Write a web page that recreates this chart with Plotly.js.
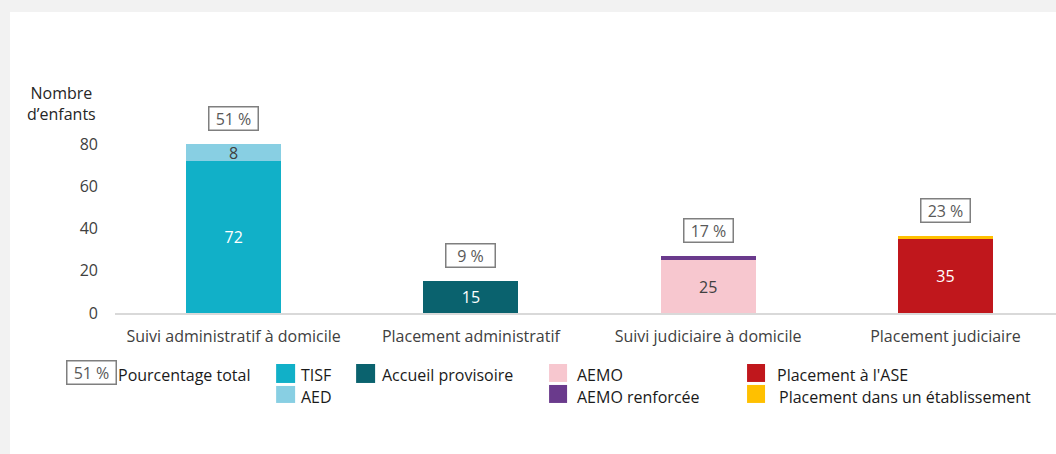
<!DOCTYPE html>
<html>
<head>
<meta charset="utf-8">
<script src="https://cdn.plot.ly/plotly-3.0.1.min.js"></script>
<style>
  html, body { margin:0; padding:0; background:#f2f2f2; }
  #card { position:absolute; left:10px; top:12px; width:1046px; height:442px; background:#fff; }
  #chart { position:absolute; left:0; top:0; width:1056px; height:454px; }
</style>
</head>
<body>
<div id="card"></div>
<div id="chart"></div>
<script>
// ---- data ----
const categories = ["Suivi administratif à domicile", "Placement administratif", "Suivi judiciaire à domicile", "Placement judiciaire"];
const tisf        = [72, null, null, null];
const aed         = [8, null, null, null];
const accueil     = [null, 15, null, null];
const aemo        = [null, null, 25, null];
const aemoRenf    = [null, null, 2, null];
const placeASE    = [null, null, null, 35];
const placeEtab   = [null, null, null, 1.5];
const totals      = [80, 15, 27, 36.5];
const pctLabels   = ["51 %", "9 %", "17 %", "23 %"];
const yTicks      = [0, 20, 40, 60, 80];

const FONT = "'Open Sans', Lato, sans-serif";
const FS = 16;
const W = 1056, H = 454;
const L = 114.85, R = 0, T = 122.9, B = 141;
const pw = W - L - R, ph = H - T - B;
const px = x => (x - L) / pw;
const py = y => (H - B - y) / ph;

function barTrace(name, y, color, textColor, showText) {
  return {
    type: "bar", name: name, x: categories, y: y,
    marker: { color: color, line: { width: 0 } },
    width: 0.4,
    text: showText ? y.map(v => v == null ? "" : String(v)) : undefined,
    textposition: showText ? "inside" : "none",
    insidetextanchor: "middle",
    textangle: 0,
    constraintext: "none",
    textfont: { family: FONT, size: FS, color: textColor },
    hoverinfo: "skip", showlegend: false
  };
}

const data = [
  barTrace("TISF", tisf, "#11b0c8", "#ffffff", true),
  barTrace("AED", aed, "#88cfe3", "#404040", true),
  barTrace("Accueil provisoire", accueil, "#0a626e", "#ffffff", true),
  barTrace("AEMO", aemo, "#f7c7cf", "#404040", true),
  barTrace("AEMO renforcée", aemoRenf, "#6a3a8c", "#ffffff", false),
  barTrace("Placement à l'ASE", placeASE, "#c0171c", "#ffffff", true),
  barTrace("Placement dans un établissement", placeEtab, "#ffc000", "#ffffff", false)
];

const annotations = [];
// percentage boxes
categories.forEach((c, i) => {
  annotations.push({
    x: c, y: totals[i], xref: "x", yref: "y",
    text: pctLabels[i], showarrow: false,
    yanchor: "bottom", yshift: 13,
    width: 44, height: 18, align: "center", valign: "middle",
    font: { family: FONT, size: FS, color: "#595959" },
    bordercolor: "#7f7f7f", borderwidth: 1.5, borderpad: 2, bgcolor: "#ffffff"
  });
});
// y-axis title
annotations.push({
  xref: "paper", yref: "paper", x: px(61), y: py(103),
  text: "Nombre<br>d’enfants", showarrow: false, align: "center",
  xanchor: "center", yanchor: "middle",
  font: { family: FONT, size: FS, color: "#262626" }
});

// custom legend
const shapes = [];
function swatch(x0, y0, x1, y1, color) {
  shapes.push({ type: "rect", xref: "paper", yref: "paper",
    x0: px(x0), x1: px(x1), y0: py(y1), y1: py(y0),
    fillcolor: color, line: { width: 0 } });
}
function ltext(x, y, t) {
  annotations.push({ xref: "paper", yref: "paper", x: px(x), y: py(y),
    text: t, showarrow: false, xanchor: "left", yanchor: "middle",
    font: { family: FONT, size: FS, color: "#1a1a1a" } });
}
// legend percentage box
annotations.push({ xref: "paper", yref: "paper", x: px(91), y: py(373),
  text: "51 %", showarrow: false, xanchor: "center", yanchor: "middle",
  width: 44, height: 18, align: "center", valign: "middle",
  font: { family: FONT, size: FS, color: "#595959" },
  bordercolor: "#7f7f7f", borderwidth: 1.5, borderpad: 2 });
ltext(116, 375, "Pourcentage total");
swatch(276, 364, 295, 383, "#11b0c8"); ltext(299, 375, "TISF");
swatch(276, 386, 295, 403, "#88cfe3"); ltext(299, 397, "AED");
swatch(356, 364, 375, 383, "#0a626e"); ltext(380, 375, "Accueil provisoire");
swatch(549, 364, 567, 382, "#f7c7cf"); ltext(575, 375, "AEMO");
swatch(549, 385, 567, 403, "#6a3a8c"); ltext(575, 397, "AEMO renforcée");
swatch(747, 364, 765, 382, "#c0171c"); ltext(775, 375, "Placement à l'ASE");
swatch(747, 385, 765, 403, "#ffc000"); ltext(777, 397, "Placement dans un établissement");

const layout = {
  width: W, height: H,
  margin: { l: L, r: R, t: T, b: B, pad: 0 },
  paper_bgcolor: "rgba(0,0,0,0)", plot_bgcolor: "rgba(0,0,0,0)",
  barmode: "stack",
  showlegend: false,
  font: { family: FONT, size: FS, color: "#404040" },
  xaxis: {
    type: "category", range: [-0.5, -0.5 + pw / 237.3],
    showline: true, linecolor: "#d9d9d9", linewidth: 1.5,
    showgrid: false, zeroline: false, ticks: "",
    tickfont: { family: FONT, size: FS, color: "#404040" },
    ticklabelstandoff: 8, fixedrange: true
  },
  yaxis: {
    range: [0, 90], tickvals: yTicks, ticktext: yTicks.map(String),
    showline: false, showgrid: false, zeroline: false, ticks: "",
    tickfont: { family: FONT, size: FS, color: "#404040" },
    ticklabelstandoff: 16, fixedrange: true
  },
  annotations: annotations,
  shapes: shapes
};

Plotly.newPlot("chart", data, layout, { displayModeBar: false, staticPlot: true });
</script>
</body>
</html>
